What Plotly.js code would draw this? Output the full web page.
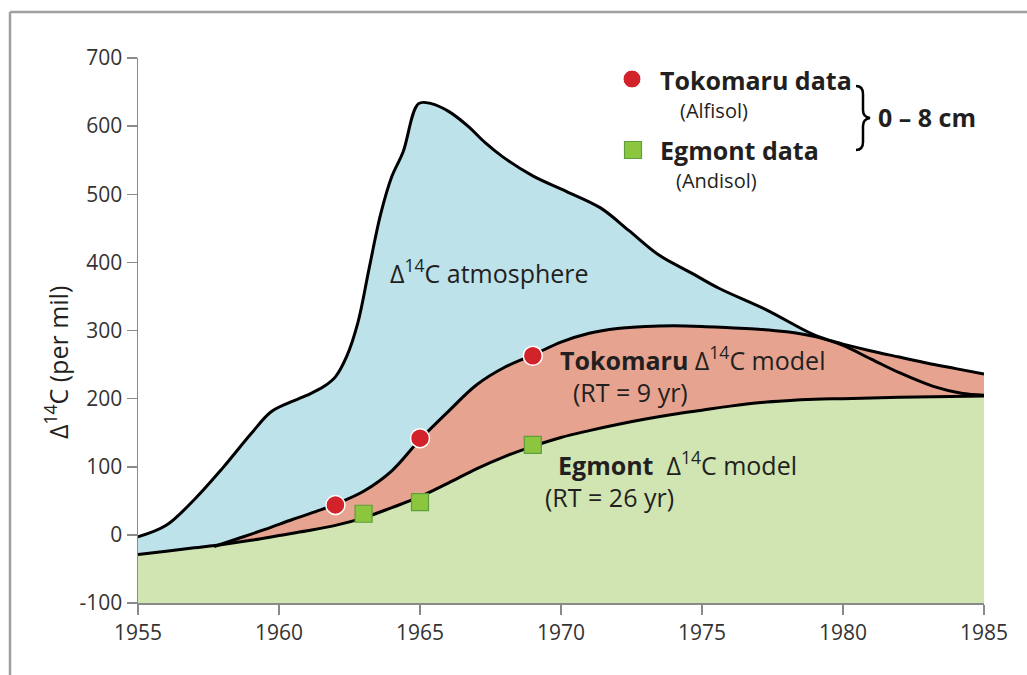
<!DOCTYPE html>
<html>
<head>
<meta charset="utf-8">
<script src="https://cdn.plot.ly/plotly-3.0.1.min.js"></script>
<style>
  html, body { margin: 0; padding: 0; background: #ffffff; }
  #chart { width: 1027px; height: 675px; }
</style>
</head>
<body>
<div id="chart"></div>
<script>
// ---------------- data ----------------
const xRange = [1955, 1985];
const yRange = [-100, 700];
const xTicks = [1955, 1960, 1965, 1970, 1975, 1980, 1985];
const yTicks = [-100, 0, 100, 200, 300, 400, 500, 600, 700];

// atmospheric Δ14C curve
const atmYear = [1955.0, 1956.0, 1957.0, 1958.0, 1959.0, 1959.7, 1960.3, 1961.0, 1961.6, 1962.0, 1962.4, 1962.8, 1963.2, 1963.6, 1964.0, 1964.4, 1964.95, 1965.4, 1966.0, 1966.7, 1967.3, 1967.9, 1969.0, 1970.2, 1971.4, 1972.4, 1973.5, 1974.6, 1975.6, 1977.3, 1978.9, 1980.0, 1981.0, 1982.0, 1983.2, 1984.2, 1985.0];
const atmD14C = [-3, 14, 52, 98, 148, 180, 193, 205, 218, 232, 262, 312, 392, 470, 526, 562, 633, 633, 622, 600, 576, 556, 527, 504, 480, 447, 410, 385, 362, 330, 295, 278, 258, 238, 218, 208, 205];

// Tokomaru model (RT = 9 yr)
const tokModelYear = [1957.7, 1958.5, 1959.5, 1960.5, 1961.5, 1962.0, 1963.0, 1964.0, 1965.0, 1966.0, 1967.0, 1968.0, 1969.0, 1970.0, 1971.0, 1972.0, 1973.0, 1974.0, 1975.0, 1976.0, 1977.0, 1978.0, 1979.0, 1980.0, 1981.0, 1982.0, 1983.0, 1984.0, 1985.0];
const tokModelD14C = [-17, -6, 8, 23, 37, 45, 64, 94, 140, 181, 220, 246, 264, 283, 296, 303, 306, 307, 306, 304, 302, 298, 291, 280, 270, 261, 252, 244, 236];

// Egmont model (RT = 26 yr)
const egmModelYear = [1955, 1956, 1957, 1958, 1959, 1960, 1961, 1962, 1963, 1964, 1965, 1966, 1967, 1968, 1969, 1970, 1971, 1972, 1973, 1974, 1975, 1976, 1977, 1978, 1979, 1980, 1982, 1985];
const egmModelD14C = [-29, -24, -19, -14, -8, -1, 6, 14, 25, 40, 56, 76, 97, 115, 130, 143, 153, 162, 170, 177, 183, 189, 194, 197, 199, 200, 202, 204];

// measured data (0 – 8 cm)
const tokDataYear = [1962, 1965, 1969];
const tokDataD14C = [44, 142, 263];
const egmDataYear = [1963, 1965, 1969];
const egmDataD14C = [31, 48, 132];

// ---------------- styling ----------------
const FONT = '"Open Sans", "Noto Sans", "DejaVu Sans", sans-serif';
const TXT = '#231f20';
const BLUE = '#bde2ea', SALMON = '#e6a390', GREEN = '#d0e5b2';
const NB = '\u00a0';
const TICK_SIZE = 21;

const baseline = { x: xRange, y: [yRange[0], yRange[0]], mode: 'lines',
  line: { width: 0 }, hoverinfo: 'skip', showlegend: false };

function fillTrace(x, y, color) {
  return { x: x, y: y, mode: 'lines', fill: 'tonexty', fillcolor: color,
    line: { width: 0, shape: 'spline', smoothing: 1 }, hoverinfo: 'skip', showlegend: false };
}
function lineTrace(x, y, name) {
  return { x: x, y: y, mode: 'lines', name: name,
    line: { color: '#000000', width: 3, shape: 'spline', smoothing: 1 }, showlegend: false };
}

const traces = [
  baseline, fillTrace(atmYear, atmD14C, BLUE),
  baseline, fillTrace(tokModelYear, tokModelD14C, SALMON),
  baseline, fillTrace(egmModelYear, egmModelD14C, GREEN),
  lineTrace(atmYear, atmD14C, 'Δ14C atmosphere'),
  lineTrace(tokModelYear, tokModelD14C, 'Tokomaru Δ14C model'),
  lineTrace(egmModelYear, egmModelD14C, 'Egmont Δ14C model'),
  { x: egmDataYear, y: egmDataD14C, mode: 'markers', name: 'Egmont data', showlegend: false,
    marker: { symbol: 'square', size: 17, color: '#8cc63f', line: { color: '#5e9e3c', width: 1.2 } } },
  { x: tokDataYear, y: tokDataD14C, mode: 'markers', name: 'Tokomaru data', showlegend: false,
    marker: { symbol: 'circle', size: 19, color: '#d2232a', line: { color: '#ffffff', width: 1.5 } } }
];

// pixel -> paper helpers (plot area: left 138, right 984, top 58, bottom 603)
const M = { l: 138, r: 43, t: 58, b: 72 };
const PW = 1027 - M.l - M.r, PH = 675 - M.t - M.b;
const px = v => (v - M.l) / PW;
const py = v => (675 - M.b - v) / PH;

function ann(text, x, y, size, opts) {
  return Object.assign({ text: text, x: x, y: y, xref: 'paper', yref: 'paper',
    xanchor: 'left', yanchor: 'middle', align: 'left', showarrow: false,
    font: { family: FONT, size: size, color: TXT } }, opts || {});
}

const layout = {
  width: 1027, height: 675,
  margin: M,
  paper_bgcolor: '#ffffff', plot_bgcolor: '#ffffff',
  showlegend: false,
  font: { family: FONT, size: TICK_SIZE, color: '#333333' },
  xaxis: {
    range: xRange, tickmode: 'array', tickvals: xTicks, ticktext: xTicks.map(String),
    showgrid: false, zeroline: false, showline: true, linecolor: '#8a8a8a', linewidth: 1.5,
    ticks: 'outside', ticklen: 10, tickwidth: 1.5, tickcolor: '#8a8a8a',
    tickfont: { family: FONT, size: TICK_SIZE, color: '#333333' }, automargin: false, fixedrange: true
  },
  yaxis: {
    range: yRange, tickmode: 'array', tickvals: yTicks, ticktext: yTicks.map(String),
    showgrid: false, zeroline: false, showline: true, linecolor: '#8a8a8a', linewidth: 1.5,
    ticks: 'outside', ticklen: 10, tickwidth: 1.5, tickcolor: '#8a8a8a',
    tickfont: { family: FONT, size: TICK_SIZE, color: '#333333' }, automargin: false, fixedrange: true
  },
  annotations: [
    // y-axis title
    ann('Δ<sup>14</sup>C (per mil)', px(56), py(363), 25, { xanchor: 'center', textangle: -90 }),
    // in-plot labels
    ann('Δ<sup>14</sup>C atmosphere', px(388), py(271), 25),
    ann('<b>Tokomaru</b> Δ<sup>14</sup>C model<br>' + NB + NB + '(RT = 9 yr)', px(558), py(374), 25),
    ann(NB + NB + '<b>Egmont</b>' + NB + ' Δ<sup>14</sup>C model<br>(RT = 26 yr)', px(543), py(480), 25),
    // legend texts
    ann('<b>Tokomaru data</b>', px(658), py(80), 25),
    ann('(Alfisol)', px(678), py(110), 20),
    ann('<b>Egmont data</b>', px(658), py(150), 25),
    ann('(Andisol)', px(674), py(181), 20),
    ann('<b>0 – 8 cm</b>', px(876), py(117), 25)
  ],
  shapes: [
    // outer frame (top + left edges visible)
    { type: 'line', xref: 'paper', yref: 'paper', x0: px(10), x1: px(10), y0: py(12), y1: py(680),
      line: { color: '#a0a0a0', width: 2.5 }, layer: 'above' },
    { type: 'line', xref: 'paper', yref: 'paper', x0: px(10), x1: px(1030), y0: py(12), y1: py(12),
      line: { color: '#a0a0a0', width: 2.5 }, layer: 'above' },
    // legend symbols
    { type: 'circle', xref: 'paper', yref: 'paper', xsizemode: 'pixel', ysizemode: 'pixel',
      xanchor: px(632), yanchor: py(79), x0: -9, x1: 9, y0: -9, y1: 9,
      fillcolor: '#d2232a', line: { color: '#ffffff', width: 1 } },
    { type: 'rect', xref: 'paper', yref: 'paper', xsizemode: 'pixel', ysizemode: 'pixel',
      xanchor: px(633), yanchor: py(150), x0: -8.5, x1: 8.5, y0: -8.5, y1: 8.5,
      fillcolor: '#8cc63f', line: { color: '#5e9e3c', width: 1.2 } },
    // brace
    { type: 'path', xref: 'paper', yref: 'paper', xsizemode: 'pixel', ysizemode: 'pixel',
      xanchor: px(862), yanchor: py(118),
      path: 'M -6,32 Q 1,32 1,24 L 1,8 Q 1,1 8,0 Q 1,-1 1,-8 L 1,-24 Q 1,-32 -6,-32',
      line: { color: '#000000', width: 2.5 } }
  ]
};

Plotly.newPlot('chart', traces, layout, { staticPlot: true, displayModeBar: false });
</script>
</body>
</html>
